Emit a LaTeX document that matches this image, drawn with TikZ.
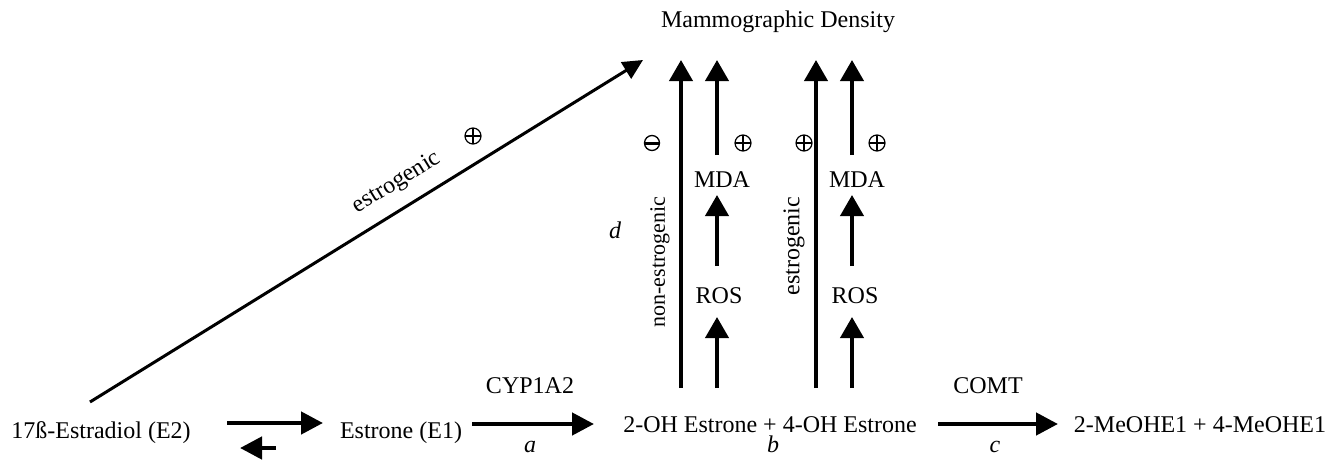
\documentclass[tikz,border=0pt]{standalone}
\usepackage{fontspec}
\setmainfont{Liberation Serif}
\usetikzlibrary{arrows.meta}
\begin{document}
\begin{tikzpicture}[x=1pt,y=-1pt,
  lbl/.style={font=\fontsize{24}{28}\selectfont, inner sep=0pt, anchor=base},
  plus/.style={circle, draw, line width=1.2pt, minimum size=16pt, inner sep=0pt,
    path picture={\draw[line width=1.1pt] (path picture bounding box.north) -- (path picture bounding box.south)
      (path picture bounding box.west) -- (path picture bounding box.east);}},
  minus/.style={circle, draw, line width=1.3pt, minimum size=15pt, inner sep=0pt,
    path picture={\draw[line width=3pt] (path picture bounding box.west) -- (path picture bounding box.east);}},
  varr/.style={line width=4pt, -{Triangle[width=23pt,length=21pt]}},
  harr/.style={line width=4.5pt, -{Triangle[width=22pt,length=22pt]}},
  darr/.style={line width=3pt, -{Triangle[width=19pt,length=20pt]}}]
\useasboundingbox (0,0) rectangle (1343,460);
% main chain
\node[lbl] (e2) at (101,438) {17ß-Estradiol (E2)};
\node[lbl] (e1) at (401,438) {Estrone (E1)};
\node[lbl] (oh) at (770,432) {2-OH Estrone + 4-OH Estrone};
\node[lbl] (meo) at (1200,432) {2-MeOHE1 + 4-MeOHE1};
\node[lbl] (md) at (778,28) {Mammographic Density};
\node[lbl] (cyp) at (530,393) {CYP1A2};
\node[lbl] (comt) at (988,393) {COMT};
\node[lbl] (la) at (530,452) {\itshape a};
\node[lbl] (lb) at (773,452) {\itshape b};
\node[lbl] (lc) at (995,452) {\itshape c};
\node[lbl, anchor=center] (ld) at (615,230) {\itshape d};
% MDA / ROS
\node[lbl] (mda1) at (722,187) {MDA};
\node[lbl] (ros1) at (719,303) {ROS};
\node[lbl] (mda2) at (857,187) {MDA};
\node[lbl] (ros2) at (855,303) {ROS};
% rotated labels
\node[inner sep=0pt, font=\fontsize{22}{26}\selectfont, rotate=90] (ne) at (660,262) {non-estrogenic};
\node[inner sep=0pt, font=\fontsize{24}{28}\selectfont, rotate=90] (es) at (794,246) {estrogenic};
\node[inner sep=0pt, font=\fontsize{24}{28}\selectfont, rotate=31.7] (des) at (397,183) {estrogenic};
% signs
\node[plus] (s0) at (473,136) {};
\node[minus] (s1) at (652,143) {};
\node[plus] (s2) at (743,143) {};
\node[plus] (s3) at (804,143) {};
\node[plus] (s4) at (877,143) {};
% arrow end coordinates
\coordinate (h1s) at (227,423); \coordinate (h1e) at (323,423);
\coordinate (h2s) at (276,448); \coordinate (h2e) at (240,448);
\coordinate (has) at (472,424); \coordinate (hae) at (594,424);
\coordinate (hcs) at (938,424); \coordinate (hce) at (1058,424);
\coordinate (ds) at (90,402); \coordinate (de) at (643,60);
\coordinate (v1s) at (681,388); \coordinate (v1e) at (681,60);
\coordinate (v2s) at (717,155); \coordinate (v2e) at (717,60);
\coordinate (v3s) at (717,266); \coordinate (v3e) at (717,195);
\coordinate (v4s) at (717,388); \coordinate (v4e) at (717,317);
\coordinate (w1s) at (816,388); \coordinate (w1e) at (816,60);
\coordinate (w2s) at (852,155); \coordinate (w2e) at (852,60);
\coordinate (w3s) at (852,266); \coordinate (w3e) at (852,195);
\coordinate (w4s) at (852,388); \coordinate (w4e) at (852,317);
% arrows
\draw[harr] (h1s) -- (h1e);
\draw[harr] (h2s) -- (h2e);
\draw[harr] (has) -- (hae);
\draw[harr] (hcs) -- (hce);
\draw[darr] (ds) -- (de);
\foreach \a in {v1,v2,v3,v4,w1,w2,w3,w4}{\draw[varr] (\a s) -- (\a e);}
\end{tikzpicture}
\end{document}
